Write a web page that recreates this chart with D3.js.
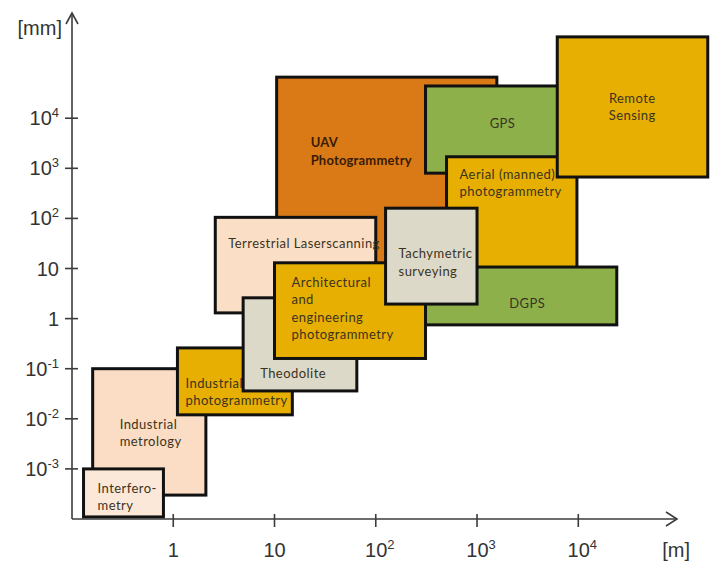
<!DOCTYPE html>
<html>
<head>
<meta charset="utf-8">
<script src="https://cdn.jsdelivr.net/npm/d3@7"></script>
<style>
  html, body { margin: 0; padding: 0; background: #fff; }
  svg { display: block; }
</style>
</head>
<body>
<svg id="chart" width="710" height="577"></svg>
<script>
// ---- data (values in metres for x, millimetres for y) ----
const names = ["UAV Photogrammetry", "GPS", "Aerial (manned) photogrammetry", "Remote Sensing",
  "DGPS", "Terrestrial Laserscanning", "Industrial metrology", "Interferometry",
  "Industrial photogrammetry", "Theodolite", "Architectural and engineering photogrammetry",
  "Tachymetric surveying"];
const labelLines = [["UAV", "Photogrammetry"], ["GPS"], ["Aerial (manned)", "photogrammetry"],
  ["Remote", "Sensing"], ["DGPS"], ["Terrestrial Laserscanning"], ["Industrial", "metrology"],
  ["Interfero-", "metry"], ["Industrial", "photogrammetry"], ["Theodolite"],
  ["Architectural", "and", "engineering", "photogrammetry"], ["Tachymetric", "surveying"]];
const xMin = [10.5, 310, 500, 6200, 200, 2.6, 0.16, 0.13, 1.1, 4.9, 10, 125];
const xMax = [1570, 16000, 9700, 190000, 24000, 100, 2.1, 0.8, 15, 65, 310, 1000];
const yMin = [3.7, 800, 6, 670, 0.75, 1.3, 0.0003, 0.00011, 0.012, 0.036, 0.16, 1.95];
const yMax = [66000, 44000, 1700, 420000, 10.7, 105, 0.1, 0.001, 0.26, 2.6, 13, 160];
const xTickValues = [1, 10, 100, 1000, 10000];
const xTickLabels = [["1", ""], ["10", ""], ["10", "2"], ["10", "3"], ["10", "4"]];
const yTickValues = [0.001, 0.01, 0.1, 1, 10, 100, 1000, 10000];
const yTickLabels = [["10", "-3"], ["10", "-2"], ["10", "-1"], ["1", ""], ["10", ""], ["10", "2"], ["10", "3"], ["10", "4"]];

// ---- styles ----
const fills = ["#D97A17", "#8DB04B", "#E6AF02", "#E6AF02", "#8DB04B", "#FBDEC6", "#FADDC4",
  "#FCE8D9", "#E6AF02", "#DDD9C8", "#E6AF02", "#DDD9C8"];
// label placement: anchor, dx from box left (px), dy of first line centre from box top (px)
const labelAnchor = ["start", "middle", "start", "middle", "middle", "start", "start", "start", "start", "start", "start", "start"];
const labelDx = [34, 77, 13, 75, 121, 13, 27, 14, 8, 17, 17, 13];
const labelDy = [65, 37, 17, 61, 36, 26, 55, 19, 35, 75, 19, 45];

const svg = d3.select("#chart");
const x = d3.scaleLog().domain([0.1, Math.pow(10, 4.975)]).range([72, 677]);
const y = d3.scaleLog().domain([1e-4, Math.pow(10, 6.1)]).range([519, 13]);

const axisColor = "#3c3c3c";
const lineH = 17.5;

// boxes
const g = svg.append("g");
names.forEach((n, i) => {
  const x0 = x(xMin[i]), x1 = x(xMax[i]), y0 = y(yMax[i]), y1 = y(yMin[i]);
  const bg = g.append("g");
  bg.append("rect")
    .attr("x", x0).attr("y", y0).attr("width", x1 - x0).attr("height", y1 - y0)
    .attr("fill", fills[i]).attr("stroke", "#111").attr("stroke-width", 3);
  const t = bg.append("text")
    .attr("font-family", "Lato, 'Open Sans', sans-serif")
    .attr("font-size", 13)
    .attr("letter-spacing", i === 0 ? 0.2 : 0.45)
    .attr("font-weight", i === 0 ? "bold" : "normal")
    .attr("fill", i === 0 ? "#3a1c04" : "#3b3320")
    .attr("text-anchor", labelAnchor[i])
    .attr("dominant-baseline", "central");
  labelLines[i].forEach((ln, j) => {
    t.append("tspan").attr("x", x0 + labelDx[i]).attr("y", y0 + labelDy[i] + j * lineH).text(ln);
  });
});

// axes
const ax = svg.append("g").attr("stroke", axisColor).attr("stroke-width", 1.6).attr("fill", "none");
ax.append("line").attr("x1", x.range()[0]).attr("x2", x.range()[1]).attr("y1", y.range()[0]).attr("y2", y.range()[0]);
ax.append("line").attr("x1", x.range()[0]).attr("x2", x.range()[0]).attr("y1", y.range()[0]).attr("y2", y.range()[1]);
ax.append("polyline").attr("points", `${x.range()[1]-11},${y.range()[0]-7} ${x.range()[1]},${y.range()[0]} ${x.range()[1]-11},${y.range()[0]+7}`);
ax.append("polyline").attr("points", `${x.range()[0]-6},${y.range()[1]+11} ${x.range()[0]},${y.range()[1]} ${x.range()[0]+6},${y.range()[1]+11}`);

xTickValues.forEach(v => {
  ax.append("line").attr("x1", x(v)).attr("x2", x(v)).attr("y1", y.range()[0] - 5).attr("y2", y.range()[0] + 8);
});
yTickValues.forEach(v => {
  ax.append("line").attr("x1", x.range()[0] - 7).attr("x2", x.range()[0] + 6).attr("y1", y(v)).attr("y2", y(v));
});

const font = "'Liberation Sans', Arial, sans-serif";
function tickLabel(sel, lab) {
  sel.append("tspan").text(lab[0]);
  if (lab[1]) sel.append("tspan").attr("font-size", 13).attr("dy", -8).text(lab[1]);
}
xTickValues.forEach((v, i) => {
  const t = svg.append("text").attr("x", x(v) + (xTickLabels[i][1] ? 4 : 0)).attr("y", 557)
    .attr("font-family", font).attr("font-size", 20).attr("fill", "#333")
    .attr("text-anchor", "middle");
  tickLabel(t, xTickLabels[i]);
});
yTickValues.forEach((v, i) => {
  const t = svg.append("text").attr("x", 59).attr("y", y(v) + 7)
    .attr("font-family", font).attr("font-size", 20).attr("fill", "#333")
    .attr("text-anchor", "end");
  tickLabel(t, yTickLabels[i]);
});

svg.append("text").attr("x", 62).attr("y", 35).attr("text-anchor", "end")
  .attr("font-family", font).attr("font-size", 20).attr("fill", "#333").text("[mm]");
svg.append("text").attr("x", 690).attr("y", 557).attr("text-anchor", "end")
  .attr("font-family", font).attr("font-size", 20).attr("fill", "#333").text("[m]");
</script>
</body>
</html>
